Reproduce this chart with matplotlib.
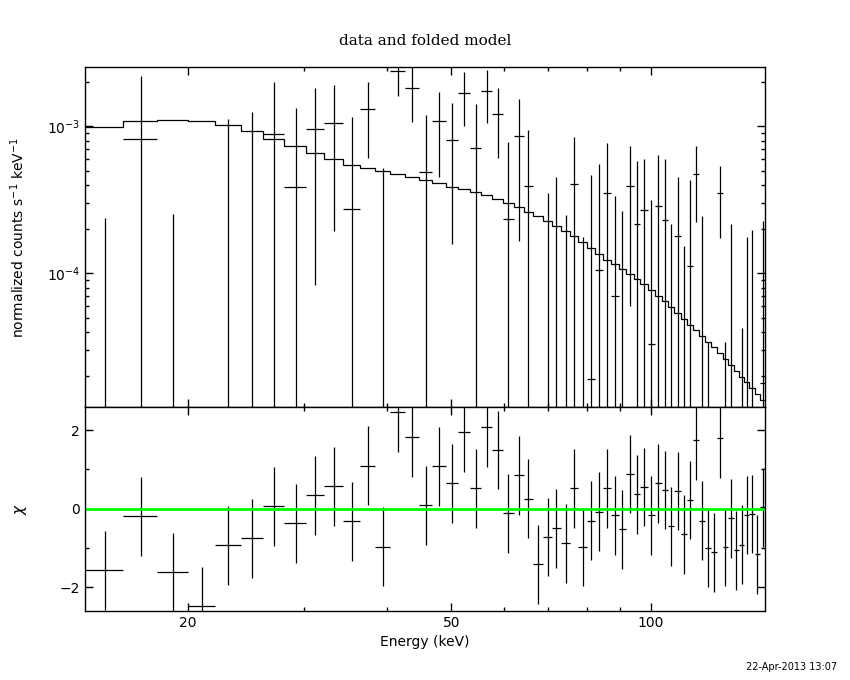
import numpy as np
import matplotlib
matplotlib.use("Agg")
import matplotlib.pyplot as plt
from matplotlib.ticker import FixedLocator, NullFormatter, LogLocator

# energy bin edges (keV)
EDGES = [14.0, 16.0, 18.0, 20.0, 22.0, 24.1, 26.0, 28.0, 30.2, 32.1,
         34.3, 36.4, 38.4, 40.4, 42.6, 44.7, 46.8, 49.0, 51.2, 53.4,
         55.4, 57.6, 59.8, 62.1, 64.3, 66.4, 68.8, 70.9, 73.2, 75.5,
         77.7, 80.1, 82.4, 84.7, 87.1, 89.4, 91.8, 94.2, 96.4, 98.9,
         101.4, 103.9, 106.3, 108.5, 111.1, 113.4, 115.8, 118.3, 120.9, 123.3,
         125.8, 128.4, 130.7, 133.3, 135.8, 138.3, 140.9, 143.5, 146.1, 149.1]

# folded model, units of 1e-3 counts/s/keV
MODEL = [0.984, 1.082, 1.099, 1.082, 1.025, 0.929, 0.815, 0.731, 0.661, 0.596,
         0.547, 0.522, 0.501, 0.473, 0.453, 0.435, 0.413, 0.390, 0.374, 0.356,
         0.340, 0.321, 0.299, 0.282, 0.263, 0.246, 0.228, 0.210, 0.193, 0.179,
         0.164, 0.150, 0.136, 0.124, 0.116, 0.108, 0.099, 0.0915, 0.0842, 0.0773,
         0.0703, 0.0647, 0.0590, 0.0537, 0.0492, 0.0448, 0.0413, 0.0374, 0.0341, 0.0316,
         0.0290, 0.0263, 0.0239, 0.0218, 0.0199, 0.0182, 0.0166, 0.0151, 0.0138]

# data rate and 1-sigma error, units of 1e-3
RATE = [-1.05, 0.815, -1.112, -1.894, -0.184, -0.031, 0.882, 0.386, 0.954, 1.053,
        0.276, 1.306, -0.03, 2.37, 1.816, 0.493, 1.082, 0.803, 1.679, 0.708,
        1.732, 1.213, 0.236, 0.855, 0.396, -0.60, -0.093, -0.033, -0.22, 0.404,
        -0.224, 0.0192, 0.106, 0.351, 0.0706, -0.061, 0.396, 0.218, 0.268, 0.0331,
        0.289, 0.232, -0.071, 0.179, -0.146, 0.113, 0.478, -0.053, -0.266, -0.301,
        0.355, -0.216, -0.037, -0.243, -0.2076, -0.012, -0.010, -0.240, 0.018]
ERR = [1.29, 1.37, 1.365, 1.2, 1.3, 1.28, 1.12, 0.944, 0.87, 0.86,
       0.88, 0.70, 0.55, 0.77, 0.75, 0.70, 0.63, 0.645, 0.67, 0.72,
       0.68, 0.60, 0.545, 0.69, 0.55, 0.60, 0.446, 0.486, 0.47, 0.437,
       0.40, 0.45, 0.447, 0.42, 0.265, 0.325, 0.336, 0.365, 0.334, 0.282,
       0.345, 0.367, 0.289, 0.272, 0.30, 0.317, 0.255, 0.30, 0.30, 0.30,
       0.18, 0.25, 0.255, 0.25, 0.25, 0.19, 0.206, 0.22, 0.21]

# residuals (chi)
CHI = [-1.57, -0.19, -1.62, -2.48, -0.93, -0.75, 0.06, -0.37, 0.34, 0.57,
       -0.32, 1.10, -0.96, 2.45, 1.82, 0.09, 1.08, 0.65, 1.94, 0.52,
       2.07, 1.49, -0.12, 0.85, 0.26, -1.41, -0.72, -0.50, -0.88, 0.52,
       -0.97, -0.30, -0.07, 0.52, -0.17, -0.52, 0.88, 0.37, 0.55, -0.17,
       0.65, 0.48, -0.45, 0.45, -0.65, 0.22, 1.74, -0.30, -1.00, -1.11,
       1.79, -0.97, -0.24, -1.06, -0.91, -0.16, -0.13, -1.16, 0.04]

X_TICKS = [20, 50, 100]
X_MINOR = [30, 40, 60, 70, 80, 90]

LW = 0.9
TINY = 1e-8

edges = np.array(EDGES)
lo_e, hi_e = edges[:-1], edges[1:]
cen = (lo_e + hi_e) / 2
model = np.array(MODEL) * 1e-3
rate = np.array(RATE) * 1e-3
err = np.array(ERR) * 1e-3
chi = np.array(CHI)

fig = plt.figure(figsize=(8.5, 6.8), dpi=100)
ax1 = fig.add_axes([0.1, 0.401, 0.8, 0.5])
ax2 = fig.add_axes([0.1, 0.1015, 0.8, 0.2995], sharex=ax1)

# top panel
ax1.set_xscale("log")
ax1.set_yscale("log")
ax1.set_xlim(14.0, 148.7)
ax1.set_ylim(1.23e-5, 2.52e-3)

top = rate + err
low = np.maximum(rate - err, TINY)
vis = top > 0
ax1.vlines(cen[vis], low[vis], top[vis], color="k", lw=LW)
pos = rate > 0
ax1.hlines(rate[pos], lo_e[pos], hi_e[pos], color="k", lw=LW)
ax1.stairs(model, edges, baseline=None, color="k", lw=LW)

# bottom panel
ax2.set_ylim(-2.6, 2.58)
ax2.vlines(cen, chi - 1, chi + 1, color="k", lw=LW)
ax2.hlines(chi, lo_e, hi_e, color="k", lw=LW)
ax2.axhline(0, color="#00ff00", lw=2)

for ax in (ax1, ax2):
    ax.tick_params(which="both", direction="in", top=True, right=True,
                   labelsize=10, color="k")
    ax.tick_params(which="major", length=6, width=1)
    ax.tick_params(which="minor", length=3, width=1)
    for s in ax.spines.values():
        s.set_linewidth(1)

ax2.xaxis.set_major_locator(FixedLocator(X_TICKS))
ax2.xaxis.set_minor_locator(FixedLocator(X_MINOR))
ax2.xaxis.set_major_formatter(plt.FuncFormatter(lambda v, p: f"{v:g}"))
ax2.xaxis.set_minor_formatter(NullFormatter())
ax1.tick_params(axis="x", labelbottom=False)

ax1.yaxis.set_major_locator(LogLocator(base=10))
ax1.yaxis.set_minor_locator(LogLocator(base=10, subs=np.arange(2, 10)))
ax1.yaxis.set_major_formatter(plt.FuncFormatter(lambda v, p: f"$10^{{{int(round(np.log10(v)))}}}$"))
ax1.yaxis.set_minor_formatter(NullFormatter())

ax2.yaxis.set_major_locator(FixedLocator([-2, 0, 2]))
ax2.yaxis.set_minor_locator(FixedLocator([-1, 1]))

ax1.set_title("data and folded model", family="DejaVu Serif", fontsize=11, pad=16)
ax1.set_ylabel("normalized counts s$^{-1}$ keV$^{-1}$", fontsize=10, labelpad=14)
ax2.set_ylabel("$\\chi$", fontsize=11, labelpad=22)
ax2.set_xlabel("Energy (keV)", fontsize=10, labelpad=4)
fig.text(0.985, 0.012, "22-Apr-2013 13:07", ha="right", va="bottom", fontsize=7)

fig.savefig("out.png", dpi=100)
